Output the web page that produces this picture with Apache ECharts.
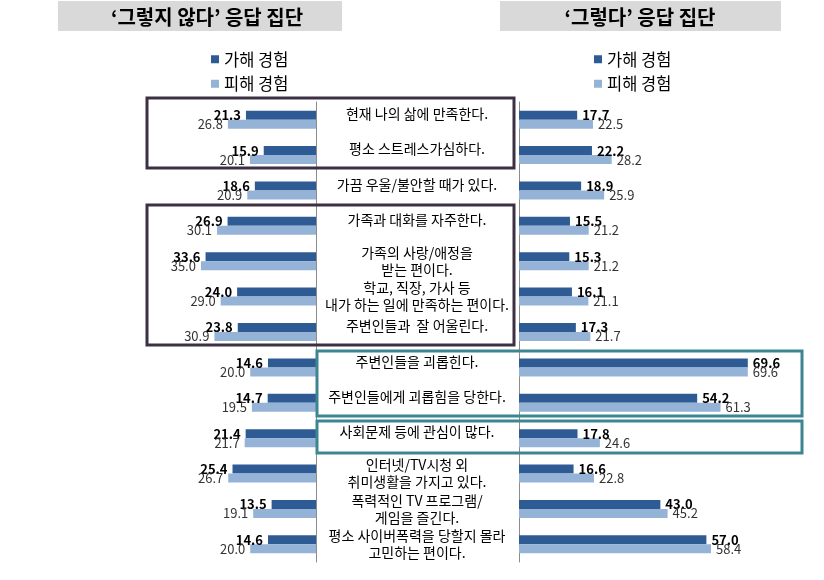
<!DOCTYPE html>
<html>
<head>
<meta charset="utf-8">
<script src="https://cdn.jsdelivr.net/npm/echarts@6/dist/echarts.min.js"></script>
<style>html,body{margin:0;padding:0;background:#fff}#c{width:824px;height:580px}</style>
</head>
<body>
<div id="c"></div>
<script>
const categories = [
  '현재 나의 삶에 만족한다.',
  '평소 스트레스가심하다.',
  '가끔 우울/불안할 때가 있다.',
  '가족과 대화를 자주한다.',
  '가족의 사랑/애정을\n받는 편이다.',
  '학교, 직장, 가사 등\n내가 하는 일에 만족하는 편이다.',
  '주변인들과  잘 어울린다.',
  '주변인들을 괴롭힌다.',
  '주변인들에게 괴롭힘을 당한다.',
  '사회문제 등에 관심이 많다.',
  '인터넷/TV시청 외\n취미생활을 가지고 있다.',
  '폭력적인 TV 프로그램/\n게임을 즐긴다.',
  '평소 사이버폭력을 당할지 몰라\n고민하는 편이다.'
];
const seriesNames = ['가해 경험', '피해 경험'];
const noPerp  = [21.3, 15.9, 18.6, 26.9, 33.6, 24.0, 23.8, 14.6, 14.7, 21.4, 25.4, 13.5, 14.6];
const noVict  = [26.8, 20.1, 20.9, 30.1, 35.0, 29.0, 30.9, 20.0, 19.5, 21.7, 26.7, 19.1, 20.0];
const yesPerp = [17.7, 22.2, 18.9, 15.5, 15.3, 16.1, 17.3, 69.6, 54.2, 17.8, 16.6, 43.0, 57.0];
const yesVict = [22.5, 28.2, 25.9, 21.2, 21.2, 21.1, 21.7, 69.6, 61.3, 24.6, 22.8, 45.2, 58.4];
const headers = ['‘그렇지 않다’ 응답 집단', '‘그렇다’ 응답 집단'];

const FONT = '"Noto Sans CJK KR", "Noto Sans", sans-serif';
const DARK = '#2f5b95';
const LIGHT = '#95b3d7';

const chart = echarts.init(document.getElementById('c'), null, {renderer: 'canvas'});

function barSeries(name, data, xi, color, bold, pos) {
  return {
    type: 'bar', name: name, data: data,
    xAxisIndex: xi, yAxisIndex: xi,
    barWidth: 9, barGap: '0%',
    itemStyle: {color: color},
    label: {
      show: true, position: pos, distance: 5,
      formatter: p => p.value.toFixed(1),
      fontFamily: FONT, fontSize: 13,
      fontWeight: bold ? 'bold' : 'normal',
      color: bold ? '#000' : '#333'
    }
  };
}

function midLabel(v) {
  const lines = v.split('\n');
  const tag = lines.length > 1 ? 'm' : 's';
  return lines.map(l => '{' + tag + '|' + l + '}').join('\n');
}
const midStyle = {width: 198, align: 'center', fontFamily: FONT, fontSize: 14, color: '#000', lineHeight: 17};

const legendBase = {data: seriesNames, orient: 'vertical', top: 46, itemWidth: 8, itemHeight: 8,
  itemGap: 8, icon: 'rect', textStyle: {fontFamily: FONT, fontSize: 16.5, color: '#000'}};

const option = {
  animation: false,
  textStyle: {fontFamily: FONT},
  grid: [
    {left: 53, width: 263, top: 102, height: 460},
    {left: 519, width: 263, top: 102, height: 460}
  ],
  xAxis: [
    {gridIndex: 0, type: 'value', min: 0, max: 80, inverse: true, show: false},
    {gridIndex: 1, type: 'value', min: 0, max: 80, show: false}
  ],
  yAxis: [
    {gridIndex: 0, type: 'category', data: categories, inverse: true, position: 'right',
     axisLine: {show: true, lineStyle: {color: '#8c8c8c', width: 1}},
     axisTick: {show: false},
     axisLabel: {interval: 0, margin: 2, formatter: midLabel,
       rich: {
         s: Object.assign({}, midStyle, {padding: [0, 0, 12, 0]}),
         m: Object.assign({}, midStyle)
       }}},
    {gridIndex: 1, type: 'category', data: categories, inverse: true, position: 'left',
     axisLine: {show: true, lineStyle: {color: '#8c8c8c', width: 1}},
     axisTick: {show: false}, axisLabel: {show: false}}
  ],
  legend: [
    Object.assign({left: 206}, legendBase),
    Object.assign({left: 589}, legendBase)
  ],
  series: [
    barSeries(seriesNames[0], noPerp, 0, DARK, true, 'left'),
    barSeries(seriesNames[1], noVict, 0, LIGHT, false, 'left'),
    barSeries(seriesNames[0], yesPerp, 1, DARK, true, 'right'),
    barSeries(seriesNames[1], yesVict, 1, LIGHT, false, 'right')
  ],
  graphic: [
    {type: 'rect', shape: {x: 58, y: 1, width: 284, height: 30}, style: {fill: '#d9d9d9'}, z: 1},
    {type: 'rect', shape: {x: 500, y: 1, width: 281, height: 30}, style: {fill: '#d9d9d9'}, z: 1},
    {type: 'text', x: 207, y: 17, style: {text: headers[0], fill: '#000', font: 'bold 20px ' + FONT,
      textAlign: 'center', textVerticalAlign: 'middle'}, z: 2},
    {type: 'text', x: 640, y: 17, style: {text: headers[1], fill: '#000', font: 'bold 20px ' + FONT,
      textAlign: 'center', textVerticalAlign: 'middle'}, z: 2},
    {type: 'rect', shape: {x: 147, y: 98, width: 367, height: 70}, style: {fill: null, stroke: '#3b3142', lineWidth: 3}, z: 10},
    {type: 'rect', shape: {x: 147, y: 205, width: 367, height: 140}, style: {fill: null, stroke: '#3b3142', lineWidth: 3}, z: 10},
    {type: 'rect', shape: {x: 317, y: 351, width: 485, height: 65}, style: {fill: null, stroke: '#3d8691', lineWidth: 3}, z: 10},
    {type: 'rect', shape: {x: 317, y: 421, width: 485, height: 32}, style: {fill: null, stroke: '#3d8691', lineWidth: 3}, z: 10}
  ]
};
chart.setOption(option);
</script>
</body>
</html>
